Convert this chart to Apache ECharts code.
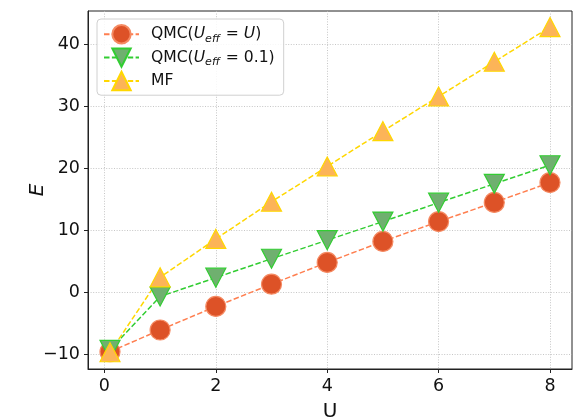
<!DOCTYPE html>
<html>
<head>
<meta charset="utf-8">
<script src="https://cdn.jsdelivr.net/npm/echarts@6/dist/echarts.min.js"></script>
<style>html,body{margin:0;padding:0;background:#fff}#c{width:573px;height:420px}</style>
</head>
<body>
<div id="c"></div>
<script>
const U = [0.1, 1, 2, 3, 4, 5, 6, 7, 8];
const qmcU = [-9.6, -6.1, -2.3, 1.3, 4.8, 8.2, 11.4, 14.5, 17.7];
const qmc01 = [-9.3, -0.7, 2.35, 5.4, 8.4, 11.4, 14.45, 17.5, 20.5];
const mf = [-9.7, 2.4, 8.6, 14.6, 20.3, 26.0, 31.6, 37.2, 42.8];
const xTicks = [0, 2, 4, 6, 8];
const yTicks = [-10, 0, 10, 20, 30, 40];
const names = ['QMC(U_eff = U)', 'QMC(U_eff = 0.1)', 'MF'];
const richNames = {
  'QMC(U_eff = U)': '{n|QMC(}{i|U}{s|eff}{n| = }{i|U}{n|)}',
  'QMC(U_eff = 0.1)': '{n|QMC(}{i|U}{s|eff}{n| = 0.1)}',
  'MF': '{n|MF}'
};
const font = 'DejaVu Sans';
const pair = (xs, ys) => xs.map((x, i) => [x, ys[i]]);
const dash = [5.5, 2.4];
const chart = echarts.init(document.getElementById('c'), null, {renderer: 'canvas'});
chart.setOption({
  animation: false,
  backgroundColor: '#fff',
  grid: {left: 88, right: 1, top: 11, bottom: 51, show: true, borderColor: '#222', borderWidth: 1,
    backgroundColor: 'transparent', containLabel: false, outerBoundsMode: 'none'},
  legend: {
    orient: 'vertical', left: 97, top: 19,
    padding: [5, 9, 4, 6],
    itemWidth: 35, itemHeight: 23, itemGap: 3,
    backgroundColor: 'rgba(255,255,255,0.85)',
    borderColor: '#d0d0d0', borderWidth: 1, borderRadius: 4,
    data: names,
    formatter: n => richNames[n],
    textStyle: {
      color: '#111', fontFamily: font, fontSize: 15.6, padding: [0, 0, 0, 7],
      rich: {
        n: {fontFamily: font, fontSize: 15.6, color: '#111'},
        i: {fontFamily: font, fontSize: 15.6, fontStyle: 'italic', color: '#111'},
        s: {fontFamily: font, fontSize: 11, fontStyle: 'italic', color: '#111', padding: [9, 1, 0, 0]}
      }
    }
  },
  xAxis: {
    type: 'value', min: -0.295, max: 8.395,
    name: 'U', nameLocation: 'middle', nameGap: 33, nameMoveOverlap: false,
    nameTextStyle: {fontFamily: font, fontSize: 20, color: '#111'},
    axisLine: {show: true, onZero: false, lineStyle: {color: '#222', width: 1}},
    axisTick: {show: true, length: 4, customValues: xTicks, lineStyle: {color: '#222'}},
    axisLabel: {customValues: xTicks, fontFamily: font, fontSize: 17.5, color: '#111', margin: 8},
    splitLine: {show: true, lineStyle: {color: '#b8b8b8', width: 0.8, type: [1, 1.6]}}
  },
  yAxis: {
    type: 'value', min: -12.4, max: 45.4,
    name: 'E', nameLocation: 'middle', nameGap: 40, nameRotate: 90, nameMoveOverlap: false,
    nameTextStyle: {fontFamily: font, fontSize: 20, fontStyle: 'italic', color: '#111'},
    axisLine: {show: true, onZero: false, lineStyle: {color: '#222', width: 1}},
    axisTick: {show: true, length: 4, customValues: yTicks, lineStyle: {color: '#222'}},
    axisLabel: {customValues: yTicks, fontFamily: font, fontSize: 17.5, color: '#111', margin: 8,
      formatter: v => (v < 0 ? '\u2212' + Math.abs(v) : String(v))},
    splitLine: {show: true, lineStyle: {color: '#b8b8b8', width: 0.8, type: [1, 1.6]}}
  },
  series: [
    {
      name: names[0], type: 'line', data: pair(U, qmcU),
      symbol: 'circle', symbolSize: 20,
      lineStyle: {color: '#ff7f50', width: 1.5, type: dash},
      itemStyle: {color: '#dd5227', borderColor: '#f58a62', borderWidth: 1.2}
    },
    {
      name: names[1], type: 'line', data: pair(U, qmc01),
      symbol: 'triangle', symbolSize: [20, 19], symbolRotate: 180,
      lineStyle: {color: '#32cd32', width: 1.5, type: dash},
      itemStyle: {color: '#6fb06f', borderColor: '#32cd32', borderWidth: 1.2}
    },
    {
      name: names[2], type: 'line', data: pair(U, mf),
      symbol: 'triangle', symbolSize: [20, 19],
      lineStyle: {color: '#ffd700', width: 1.5, type: dash},
      itemStyle: {color: '#fcb458', borderColor: '#ffd700', borderWidth: 1.2}
    }
  ]
});
</script>
</body>
</html>
